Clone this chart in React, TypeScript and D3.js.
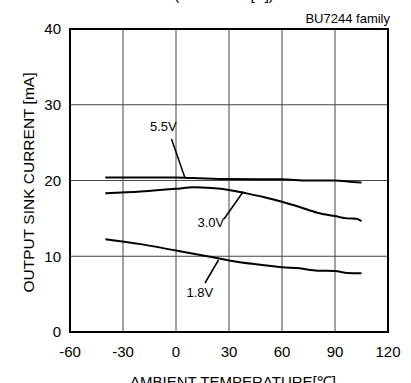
import React from "react";
import * as d3 from "d3";

const xTicks = [-60, -30, 0, 30, 60, 90, 120];
const yTicks = [0, 10, 20, 30, 40];

const series55: [number, number][] = [
  [-40, 20.4], [0, 20.38], [10, 20.32], [30, 20.2], [60, 20.15], [75, 20.0], [90, 20.0], [100, 19.8], [105, 19.75],
];
const series30: [number, number][] = [
  [-40, 18.3], [-20, 18.55], [0, 18.9], [10, 19.1], [20, 19.0], [30, 18.75], [40, 18.3], [50, 17.8], [60, 17.2],
  [70, 16.5], [80, 15.75], [90, 15.3], [97, 15.0], [102, 14.95], [105, 14.65],
];
const series18: [number, number][] = [
  [-40, 12.25], [-20, 11.6], [0, 10.75], [20, 9.9], [30, 9.45], [45, 8.95], [60, 8.55], [70, 8.4], [80, 8.1],
  [90, 8.05], [97, 7.8], [105, 7.75],
];

const FONT = "'Liberation Sans', Arial, sans-serif";

export default function App() {
  const W = 411, H = 383;
  const L = 70, R = 388, T = 29, B = 332;
  const x = d3.scaleLinear().domain([-60, 120]).range([L, R]);
  const y = d3.scaleLinear().domain([0, 40]).range([B, T]);
  const line = d3.line<[number, number]>().x(d => x(d[0])).y(d => y(d[1])).curve(d3.curveMonotoneX);

  return (
    <svg width={W} height={H} style={{ position: "absolute", left: 0, top: 0, background: "#fff" }} fontFamily={FONT}>
      <rect x={0} y={0} width={W} height={H} fill="#fff" />
      <text x={224} y={0} fontSize={15} textAnchor="middle" fill="#000">(VOUT=0.4[V])</text>
      <text x={390} y={22.5} fontSize={13} textAnchor="end" fill="#000">BU7244 family</text>
      {xTicks.slice(1, -1).map(t => (
        <line key={"gx" + t} x1={x(t)} x2={x(t)} y1={T} y2={B} stroke="#444" strokeWidth={1} />
      ))}
      {yTicks.slice(1, -1).map(t => (
        <line key={"gy" + t} x1={L} x2={R} y1={y(t)} y2={y(t)} stroke="#444" strokeWidth={1} />
      ))}
      <rect x={L} y={T} width={R - L} height={B - T} fill="none" stroke="#000" strokeWidth={2} />
      {yTicks.map(t => (
        <text key={"ty" + t} x={61} y={y(t)} dy="0.36em" fontSize={15} textAnchor="end" fill="#000">{t}</text>
      ))}
      {xTicks.map(t => (
        <text key={"tx" + t} x={x(t)} y={357} fontSize={15} textAnchor="middle" fill="#000">{t}</text>
      ))}
      <text transform={`translate(28,${(T + B) / 2 + 2}) rotate(-90)`} dy="0.36em" fontSize={15.5} textAnchor="middle" fill="#000">OUTPUT SINK CURRENT [mA]</text>
      <text x={233} y={387} fontSize={15} textAnchor="middle" fill="#000">AMBIENT TEMPERATURE[℃]</text>
      {[series55, series30, series18].map((s, i) => (
        <path key={"s" + i} d={line(s) || ""} fill="none" stroke="#000" strokeWidth={2} />
      ))}
      <text x={150} y={131} fontSize={13} fill="#000">5.5V</text>
      <line x1={171.5} y1={139} x2={185} y2={178} stroke="#000" strokeWidth={1.5} />
      <text x={197.5} y={226.5} fontSize={13} fill="#000">3.0V</text>
      <line x1={224} y1={219} x2={243} y2={192} stroke="#000" strokeWidth={1.5} />
      <text x={186.5} y={297} fontSize={13} fill="#000">1.8V</text>
      <line x1={205} y1={283} x2={218.5} y2={260} stroke="#000" strokeWidth={1.5} />
    </svg>
  );
}
